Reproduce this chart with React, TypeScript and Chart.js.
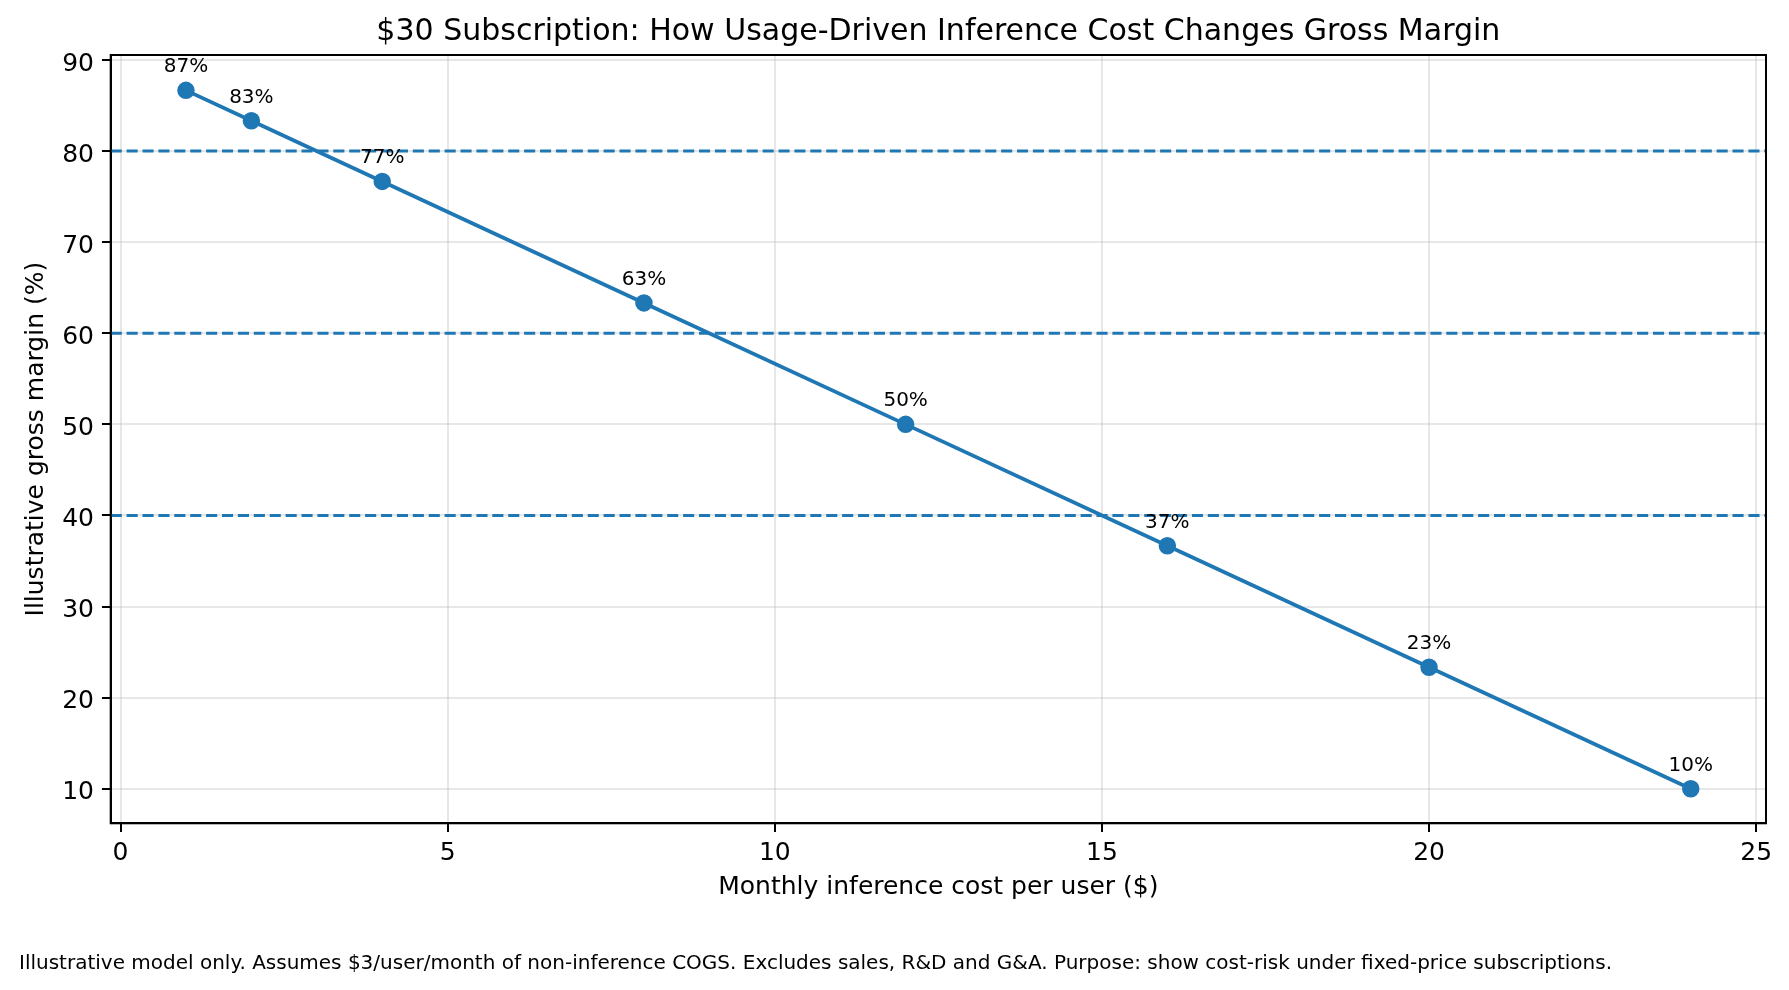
import React, { useEffect, useRef } from "react";
import { Chart, registerables } from "chart.js";

Chart.register(...registerables);

// ---- data ----
const costs = [1, 2, 4, 8, 12, 16, 20, 24];
const margins = [86.67, 83.33, 76.67, 63.33, 50.0, 36.67, 23.33, 10.0];
const pointLabels = ["87%", "83%", "77%", "63%", "50%", "37%", "23%", "10%"];
const thresholds = [80, 60, 40];
const xTicks = [0, 5, 10, 15, 20, 25];
const yTicks = [10, 20, 30, 40, 50, 60, 70, 80, 90];
const xRange = [-0.15, 25.15];
const yRange = [6.2, 90.55];

const titleText = "$30 Subscription: How Usage-Driven Inference Cost Changes Gross Margin";
const xTitleText = "Monthly inference cost per user ($)";
const yTitleText = "Illustrative gross margin (%)";
const footnoteText =
  "Illustrative model only. Assumes $3/user/month of non-inference COGS. Excludes sales, R&D and G&A. Purpose: show cost-risk under fixed-price subscriptions.";

const BLUE = "#1f77b4";
const FONT = "'DejaVu Sans', 'Noto Sans', sans-serif";
const W = 1789;
const H = 990;

const overlayPlugin = {
  id: "overlay",
  beforeDatasetsDraw(chart: any) {
    const { ctx, chartArea: a, scales } = chart;
    const y = scales.y;
    ctx.save();
    ctx.beginPath();
    ctx.rect(a.left, a.top, a.right - a.left, a.bottom - a.top);
    ctx.clip();
    ctx.strokeStyle = BLUE;
    ctx.lineWidth = 3;
    ctx.setLineDash([11.1, 4.8]);
    thresholds.forEach((v) => {
      const py = y.getPixelForValue(v);
      ctx.beginPath();
      ctx.moveTo(a.left, py);
      ctx.lineTo(a.right, py);
      ctx.stroke();
    });
    ctx.restore();
  },
  afterDraw(chart: any) {
    const { ctx, chartArea: a } = chart;
    ctx.save();
    // frame (top/right spines)
    ctx.strokeStyle = "#000";
    ctx.lineWidth = 2;
    ctx.strokeRect(a.left, a.top, a.right - a.left, a.bottom - a.top);

    // point labels
    const meta = chart.getDatasetMeta(0);
    ctx.fillStyle = "#000";
    ctx.font = `20px ${FONT}`;
    ctx.textAlign = "center";
    ctx.textBaseline = "alphabetic";
    meta.data.forEach((pt: any, i: number) => {
      ctx.fillText(pointLabels[i], pt.x, pt.y - 18);
    });

    // title
    ctx.font = `30px ${FONT}`;
    ctx.textAlign = "center";
    ctx.fillText(titleText, (a.left + a.right) / 2, 40);

    // footnote
    ctx.font = `20px ${FONT}`;
    ctx.textAlign = "left";
    ctx.fillText(footnoteText, 19, 969);
    ctx.restore();
  },
};

export default function App() {
  const canvasRef = useRef<HTMLCanvasElement | null>(null);

  useEffect(() => {
    const canvas = canvasRef.current;
    if (!canvas) return;
    const tickFont = { family: FONT, size: 25 };
    const gridOpts = {
      color: "rgba(176,176,176,0.3)",
      lineWidth: 2,
      drawTicks: true,
      tickLength: 8.75,
      tickColor: "#000",
      tickWidth: 2,
    };
    const chart = new Chart(canvas, {
      type: "scatter",
      data: {
        datasets: [
          {
            data: costs.map((c, i) => ({ x: c, y: margins[i] })),
            showLine: true,
            borderColor: BLUE,
            backgroundColor: BLUE,
            borderWidth: 3.75,
            pointRadius: 7.5,
            pointBorderWidth: 2.5,
            pointBackgroundColor: BLUE,
            pointBorderColor: BLUE,
            pointHoverRadius: 7.5,
          },
        ],
      },
      options: {
        animation: false,
        responsive: false,
        devicePixelRatio: 1,
        layout: { padding: { top: 55, right: 23, left: 0, bottom: 0 } },
        plugins: {
          legend: { display: false },
          title: { display: false },
          tooltip: { enabled: false },
        },
        scales: {
          x: {
            type: "linear",
            min: xRange[0],
            max: xRange[1],
            afterBuildTicks: (scale: any) => {
              scale.ticks = xTicks.map((v) => ({ value: v }));
            },
            afterFit: (scale: any) => {
              scale.height = H - 823.3;
            },
            ticks: {
              font: tickFont,
              color: "#000",
              padding: 6.25,
              maxRotation: 0,
              autoSkip: false,
              callback: (v: any) => String(v),
            },
            grid: gridOpts,
            border: { display: true, color: "#000", width: 2 },
            title: {
              display: true,
              text: xTitleText,
              color: "#000",
              font: { family: FONT, size: 25 },
              padding: { top: 0, bottom: 87.9 },
            },
          },
          y: {
            type: "linear",
            min: yRange[0],
            max: yRange[1],
            afterBuildTicks: (scale: any) => {
              scale.ticks = yTicks.map((v) => ({ value: v }));
            },
            afterFit: (scale: any) => {
              scale.width = 110.7;
            },
            ticks: {
              font: tickFont,
              color: "#000",
              padding: 8,
              labelOffset: 4,
              autoSkip: false,
              callback: (v: any) => String(v),
            },
            grid: gridOpts,
            border: { display: true, color: "#000", width: 2 },
            title: {
              display: true,
              text: yTitleText,
              color: "#000",
              font: { family: FONT, size: 25 },
              padding: { top: 21.6, bottom: 0 },
            },
          },
        },
      },
      plugins: [overlayPlugin],
    } as any);
    return () => chart.destroy();
  }, []);

  return (
    <div style={{ position: "absolute", left: 0, top: 0, width: W, height: H, background: "#fff" }}>
      <canvas ref={canvasRef} width={W} height={H} style={{ width: W, height: H, display: "block" }} />
    </div>
  );
}
